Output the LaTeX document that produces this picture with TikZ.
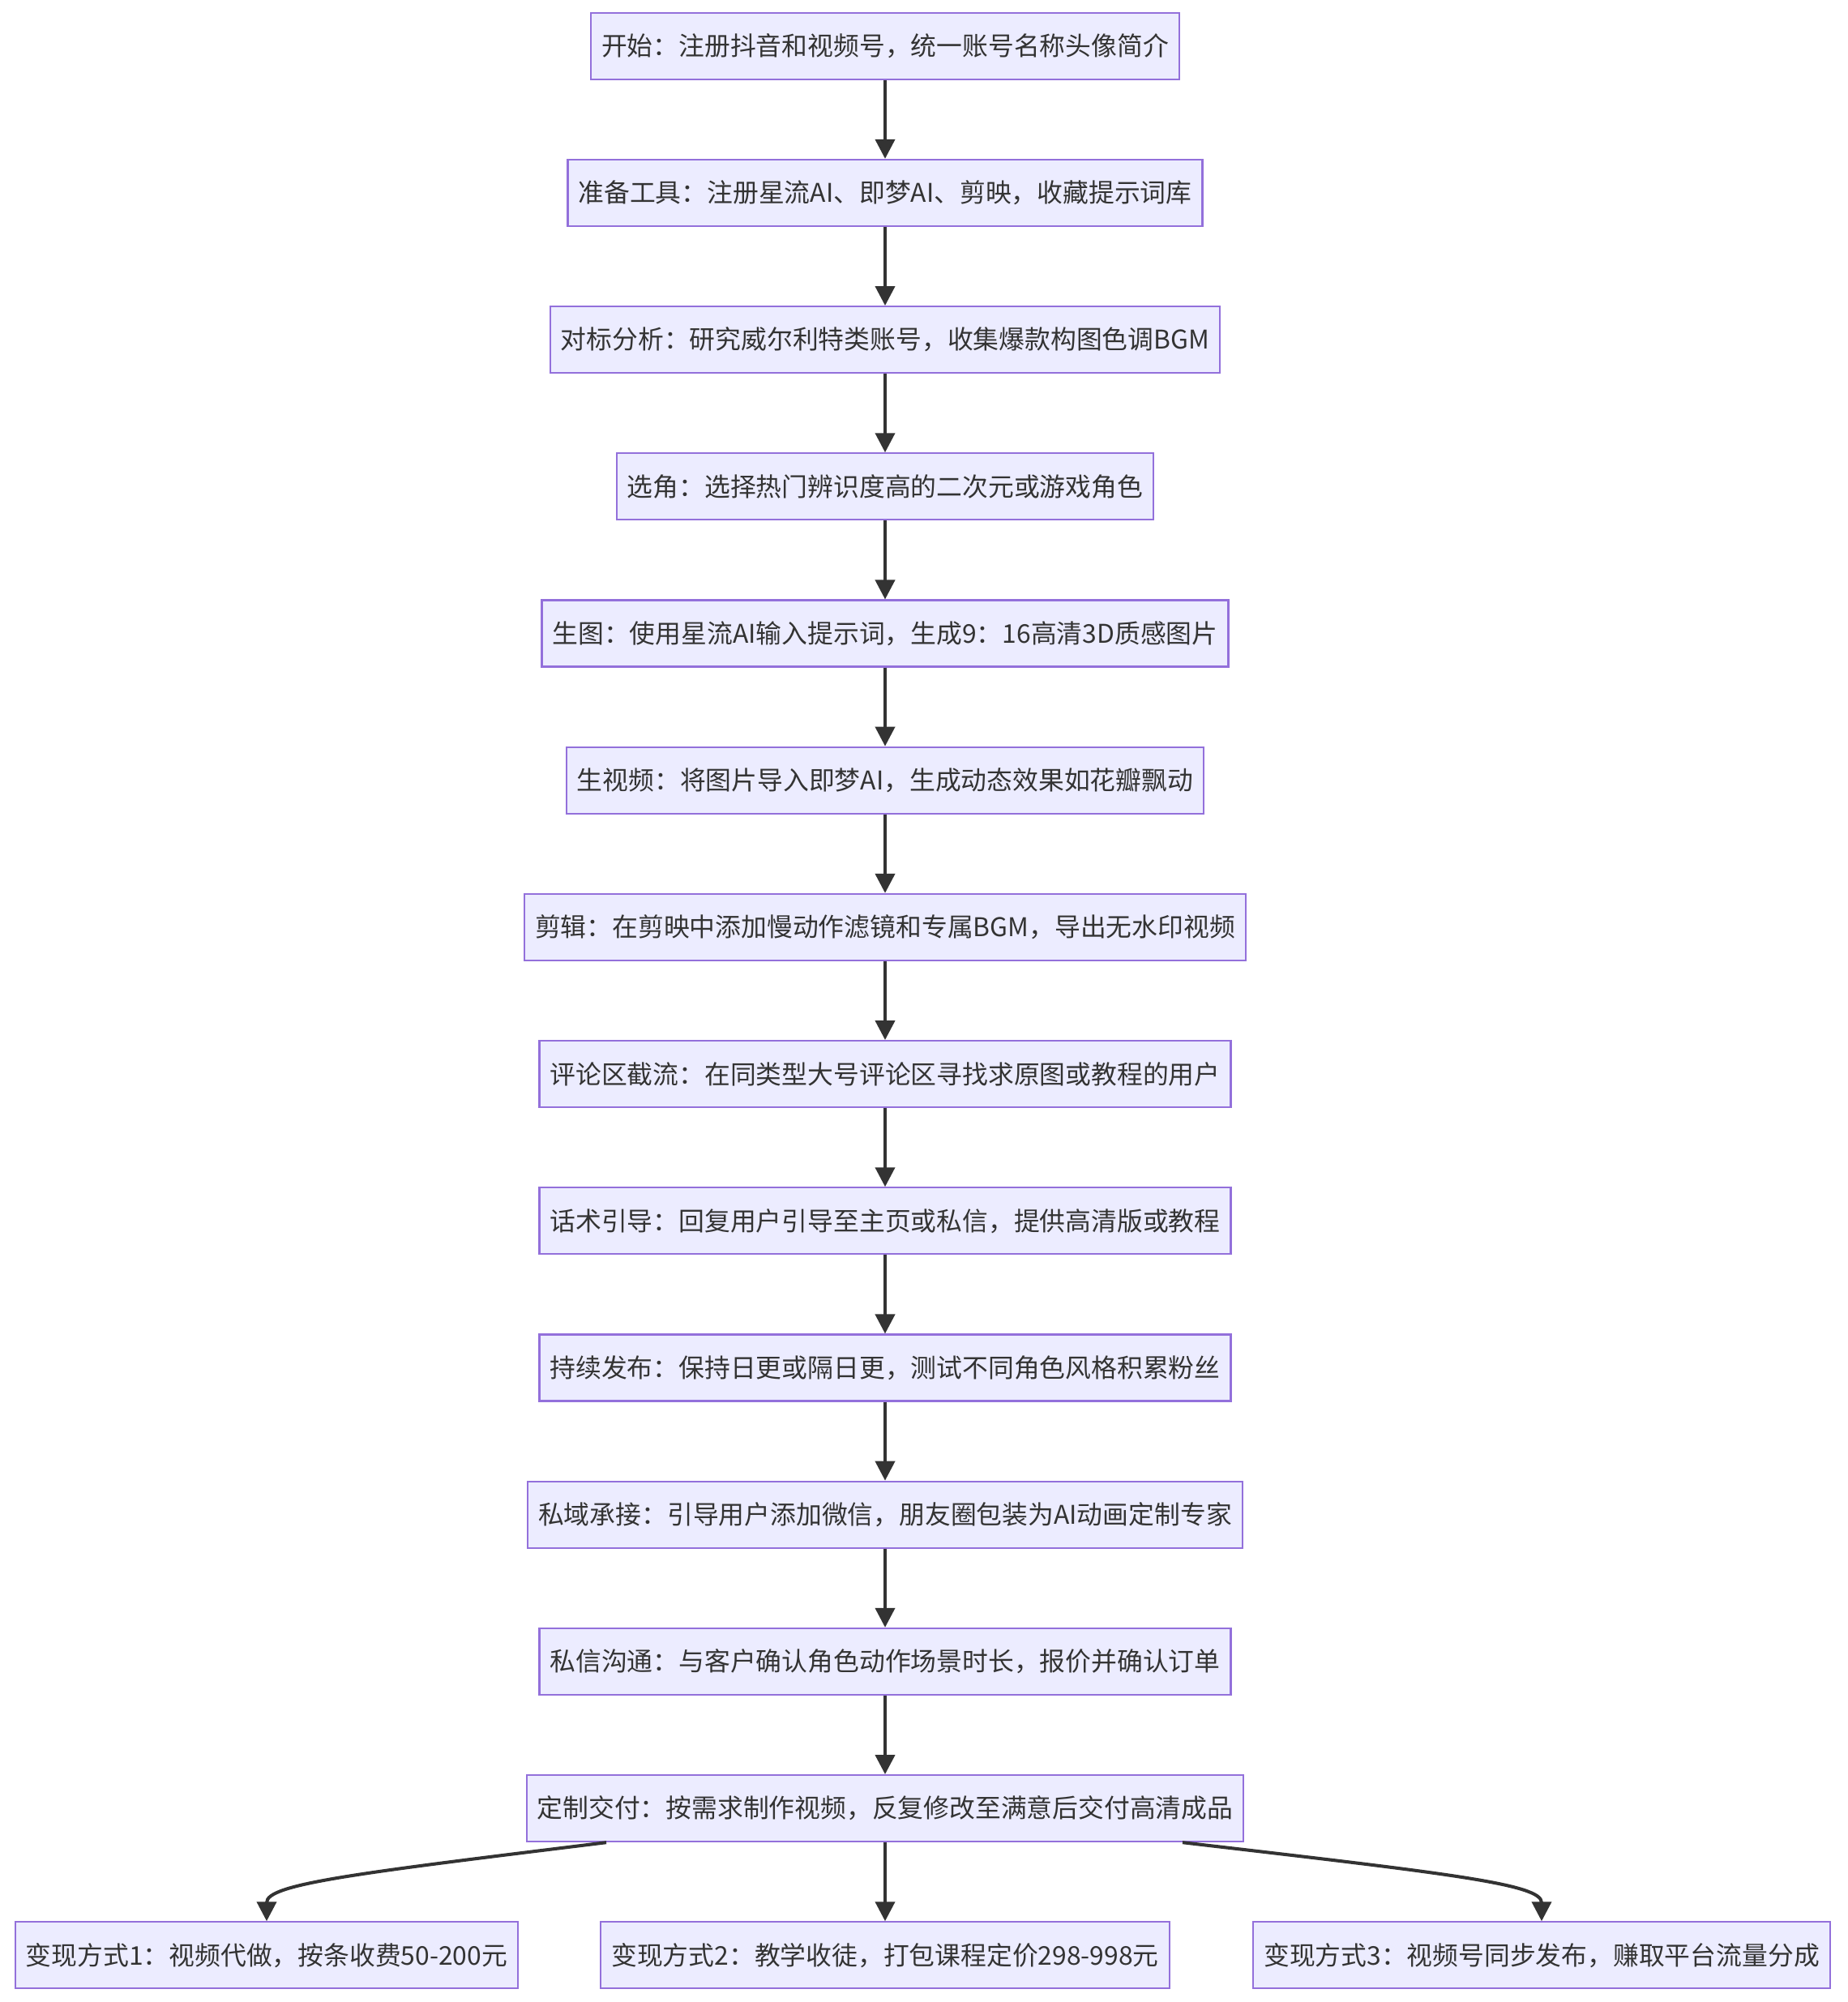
\documentclass[tikz,border=0pt]{standalone}
\usepackage{fontspec}
\setmainfont{Noto Sans CJK SC}
\usepackage{tikz}
\usepackage{xcolor}
\usetikzlibrary{arrows.meta}

\definecolor{boxfill}{HTML}{ECECFF}
\definecolor{boxline}{HTML}{9370DB}
\definecolor{ink}{HTML}{333333}

\begin{document}
\begin{tikzpicture}[
  box/.style={draw=boxline,fill=boxfill,line width=0.6pt,text=ink,
    minimum height=0.82cm,inner xsep=0.13cm,inner ysep=0pt,
    font=\fontsize{9.05}{11}\selectfont},
  flow/.style={draw=ink,line width=1.15pt,
    -{Triangle[length=2.4mm,width=2.4mm]}}
]
  \useasboundingbox (0,0) rectangle (22.8,-24.7);

  % main chain
  \node[box] (start)   at (10.92,-0.567)  {开始：注册抖音和视频号，统一账号名称头像简介};
  \node[box] (tools)   at (10.92,-2.379)  {准备工具：注册星流AI、即梦AI、剪映，收藏提示词库};
  \node[box] (bench)   at (10.92,-4.191)  {对标分析：研究威尔利特类账号，收集爆款构图色调BGM};
  \node[box] (pick)    at (10.92,-6.003)  {选角：选择热门辨识度高的二次元或游戏角色};
  \node[box] (picgen)  at (10.92,-7.815)  {生图：使用星流AI输入提示词，生成9：16高清3D质感图片};
  \node[box] (vidgen)  at (10.92,-9.627)  {生视频：将图片导入即梦AI，生成动态效果如花瓣飘动};
  \node[box] (edit)    at (10.92,-11.439) {剪辑：在剪映中添加慢动作滤镜和专属BGM，导出无水印视频};
  \node[box] (comment) at (10.92,-13.251) {评论区截流：在同类型大号评论区寻找求原图或教程的用户};
  \node[box] (reply)   at (10.92,-15.063) {话术引导：回复用户引导至主页或私信，提供高清版或教程};
  \node[box] (publish) at (10.92,-16.875) {持续发布：保持日更或隔日更，测试不同角色风格积累粉丝};
  \node[box] (wechat)  at (10.92,-18.687) {私域承接：引导用户添加微信，朋友圈包装为AI动画定制专家};
  \node[box] (chat)    at (10.92,-20.499) {私信沟通：与客户确认角色动作场景时长，报价并确认订单};
  \node[box] (deliver) at (10.92,-22.311) {定制交付：按需求制作视频，反复修改至满意后交付高清成品};

  % monetisation
  \node[box] (cash1) at (3.29,-24.123)  {变现方式1：视频代做，按条收费50-200元};
  \node[box] (cash2) at (10.92,-24.123) {变现方式2：教学收徒，打包课程定价298-998元};
  \node[box] (cash3) at (19.02,-24.123) {变现方式3：视频号同步发布，赚取平台流量分成};

  \draw[flow] (start) -- (tools);
  \draw[flow] (tools) -- (bench);
  \draw[flow] (bench) -- (pick);
  \draw[flow] (pick) -- (picgen);
  \draw[flow] (picgen) -- (vidgen);
  \draw[flow] (vidgen) -- (edit);
  \draw[flow] (edit) -- (comment);
  \draw[flow] (comment) -- (reply);
  \draw[flow] (reply) -- (publish);
  \draw[flow] (publish) -- (wechat);
  \draw[flow] (wechat) -- (chat);
  \draw[flow] (chat) -- (deliver);

  \draw[flow] ([xshift=-3.44cm]deliver.south) .. controls +(-3.08,-0.38) and +(0,0.46) .. (cash1.north);
  \draw[flow] (deliver) -- (cash2);
  \draw[flow] ([xshift=3.67cm]deliver.south) .. controls +(3.26,-0.38) and +(0,0.46) .. (cash3.north);
\end{tikzpicture}
\end{document}
